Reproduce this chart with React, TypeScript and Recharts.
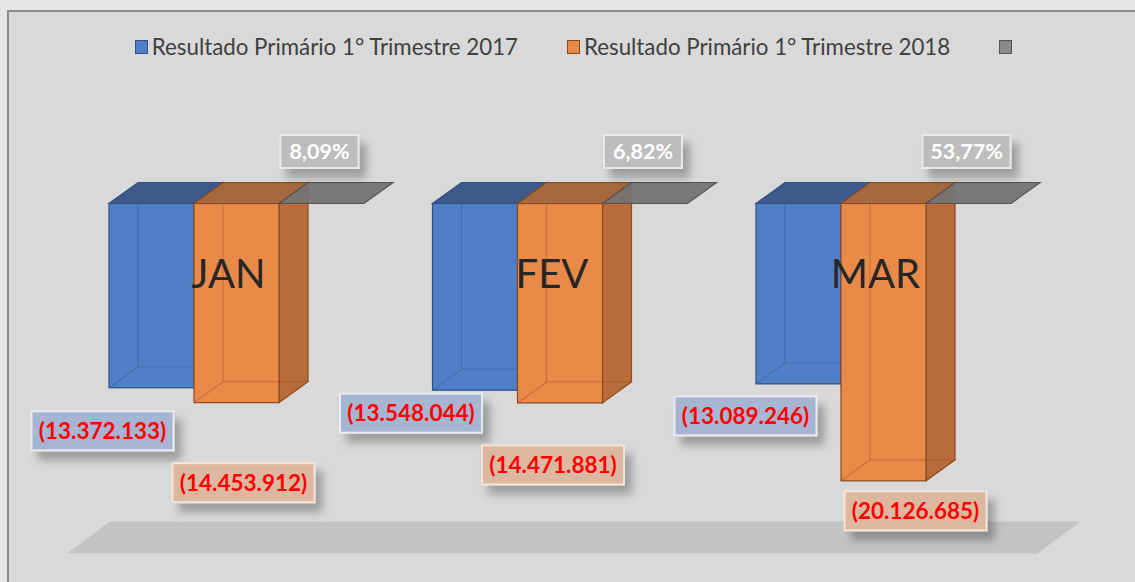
import React from 'react';
import { BarChart, Bar, XAxis, YAxis, LabelList, Legend, ReferenceArea } from 'recharts';

const months = ['JAN', 'FEV', 'MAR'];
const resultado2017 = [-13372133, -13548044, -13089246];
const resultado2018 = [-14453912, -14471881, -20126685];
const variacao = [8.09, 6.82, 53.77];
const seriesNames = ['Resultado Primário 1° Trimestre 2017', 'Resultado Primário 1° Trimestre 2018', ''];

const data = months.map((month, i) => ({
  month,
  r2017: resultado2017[i],
  r2018: resultado2018[i],
  pct: variacao[i],
}));

// label placement (Excel labels were moved by hand), offset from bar front bottom-center
const nudge2017 = [[-49, 43], [-64, 23], [-53, 32]];
const nudge2018 = [[7, 80], [-7, 62], [32, 30]];

const DX = 29;
const DY = 21;
const FONT = 'Lato, "Open Sans", sans-serif';

const blue = { front: '#4f7fc7', top: '#3e5a8c', side: '#3f63a3', edge: '#2f4f85' };
const orange = { front: '#e98a48', top: '#a6693e', side: '#b96c3a', edge: '#8b4a1c' };
const grey = { front: '#8a8a8a', top: '#747474', side: '#6a6a6a', edge: '#555555' };

const fmtNeg = (v: number) => {
  const s = Math.abs(Math.round(v)).toString().replace(/\B(?=(\d{3})+(?!\d))/g, '.');
  return v < 0 ? `(${s})` : s;
};
const fmtPct = (v: number) => v.toFixed(2).replace('.', ',') + '%';

const norm = (p: any) => {
  const x = Number(p.x);
  const y = Number(p.y);
  const w = Number(p.width);
  const h = Number(p.height);
  const top = Math.min(y, y + h);
  return { l: x, r: x + w, top, b: top + Math.abs(h), w };
};

const makeBox = (c: typeof blue) => (props: any) => {
  const { l, r, top, b } = norm(props);
  const flat = b - top < 1;
  if (flat) {
    return (
      <polygon
        points={`${l},${top} ${r},${top} ${r + DX},${top - DY} ${l + DX},${top - DY}`}
        fill={c.top}
        stroke={c.edge}
        strokeWidth={1.2}
        fillOpacity={0.95}
      />
    );
  }
  return (
    <g>
      <polygon
        points={`${r},${top} ${r + DX},${top - DY} ${r + DX},${b - DY} ${r},${b}`}
        fill={c.side}
        stroke={c.edge}
        strokeWidth={1.2}
      />
      <rect x={l} y={top} width={r - l} height={b - top} fill={c.front} stroke={c.edge} strokeWidth={1.2} />
      <g stroke={c.edge} strokeOpacity={0.35} strokeWidth={1.2}>
        <line x1={l + DX} y1={top - DY} x2={l + DX} y2={b - DY} />
        <line x1={l + DX} y1={b - DY} x2={r + DX} y2={b - DY} />
        <line x1={l} y1={b} x2={l + DX} y2={b - DY} />
      </g>
      <polygon
        points={`${l},${top} ${r},${top} ${r + DX},${top - DY} ${l + DX},${top - DY}`}
        fill={c.top}
        stroke={c.edge}
        strokeWidth={1.2}
      />
    </g>
  );
};

const valueLabel = (nudges: number[][], bg: string, border: string) => (props: any) => {
  const box = norm(props.viewBox && props.viewBox.width !== undefined ? props.viewBox : props);
  const i = props.index ?? 0;
  const [nx, ny] = nudges[i] || [0, 0];
  const cx = (box.l + box.r) / 2 + nx;
  const cy = box.b + ny;
  const w = 142;
  const h = 39;
  return (
    <g>
      <rect
        x={cx - w / 2}
        y={cy - h / 2}
        width={w}
        height={h}
        fill={bg}
        stroke={border}
        strokeWidth={2}
        filter="url(#lblShadow)"
      />
      <text
        x={cx}
        y={cy + 8}
        textAnchor="middle"
        fill="#ff0000"
        fontFamily={FONT}
        fontWeight="bold"
        fontSize={22.5}
      >
        {fmtNeg(Number(props.value))}
      </text>
    </g>
  );
};

const pctLabel = (props: any) => {
  const box = norm(props.viewBox && props.viewBox.width !== undefined ? props.viewBox : props);
  const txt = fmtPct(Number(props.value));
  const cx = (box.l + box.r) / 2 - 2;
  const cy = box.top - 52;
  const w = 28 + txt.length * 10;
  const h = 33;
  return (
    <g>
      <rect
        x={cx - w / 2}
        y={cy - h / 2}
        width={w}
        height={h}
        fill="#bdbdbd"
        stroke="#e8e8e8"
        strokeWidth={2}
        filter="url(#lblShadow)"
      />
      <text x={cx} y={cy + 7.5} textAnchor="middle" fill="#ffffff" fontFamily={FONT} fontWeight="bold" fontSize={21.5}>
        {txt}
      </text>
    </g>
  );
};

const monthLabel = (props: any) => {
  const box = norm(props.viewBox && props.viewBox.width !== undefined ? props.viewBox : props);
  return (
    <text
      x={box.l + 34.5}
      y={box.top + 84}
      textAnchor="middle"
      fill="#262626"
      fontFamily={FONT}
      fontSize={40}
    >
      {props.value}
    </text>
  );
};

const Floor = (props: any) => {
  const x = Number(props.x);
  const w = Number(props.width);
  const b = Number(props.y) + Number(props.height);
  const l = x - 8;
  const r = x + w - 8;
  return (
    <polygon points={`${l},${b} ${r},${b} ${r + 43},${b - 32} ${l + 43},${b - 32}`} fill="#c4c3c3" />
  );
};

const legendColors = [blue, orange, grey];

const LegendContent = () => (
  <div
    style={{
      display: 'flex',
      justifyContent: 'center',
      alignItems: 'center',
      gap: 49,
      fontFamily: FONT,
      fontSize: 22.3,
      color: '#404040',
      paddingLeft: 12,
    }}
  >
    {seriesNames.map((name, i) => (
      <div key={i} style={{ display: 'flex', alignItems: 'center' }}>
        <span
          style={{
            display: 'inline-block',
            width: 11,
            height: 12,
            background: legendColors[i].front,
            border: `1px solid ${legendColors[i].edge}`,
            marginRight: name ? 4 : 0,
          }}
        />
        {name && <span>{name}</span>}
      </div>
    ))}
  </div>
);

export default function App() {
  return (
    <div style={{ position: 'fixed', left: 0, top: 0, width: 1135, height: 582, background: '#d9d9d9', overflow: 'hidden' }}>
      <style>{'html,body{margin:0;overflow:hidden;}'}</style>
      <svg width={0} height={0} style={{ position: 'absolute' }}>
        <defs>
          <filter id="lblShadow" x="-20%" y="-30%" width="150%" height="190%">
            <feDropShadow dx={7} dy={9} stdDeviation={4} floodColor="#000" floodOpacity={0.28} />
          </filter>
        </defs>
      </svg>
      <div style={{ position: 'absolute', left: 0, top: 0, width: 1135, height: 10, background: '#e6e6e6' }} />
      <div style={{ position: 'absolute', left: 0, top: 0, width: 7, height: 582, background: '#e6e6e6' }} />
      <div style={{ position: 'absolute', left: 7, top: 10, width: 1128, height: 2, background: '#8a8a8a' }} />
      <div style={{ position: 'absolute', left: 7, top: 10, width: 2, height: 572, background: '#8a8a8a' }} />
      <div style={{ position: 'absolute', left: 0, top: 0 }}>
        <BarChart
          width={1135}
          height={582}
          data={data}
          margin={{ top: 203.5, right: 89.5, bottom: 28.5, left: 75 }}
          barGap={0}
          barSize={85}
        >
          <XAxis dataKey="month" hide />
          <YAxis hide domain={[-25400000, 0]} />
          <ReferenceArea y1={-25400000} y2={0} shape={<Floor />} ifOverflow="visible" />
          <Legend
            layout="horizontal"
            verticalAlign="middle"
            align="center"
            content={<LegendContent />}
            wrapperStyle={{ top: 33, left: 0, width: 1135 }}
          />
          <Bar dataKey="r2017" name={seriesNames[0]} shape={makeBox(blue)} isAnimationActive={false}>
            <LabelList dataKey="r2017" content={valueLabel(nudge2017, '#a6b5d2', '#e6eaf2')} />
          </Bar>
          <Bar dataKey="r2018" name={seriesNames[1]} shape={makeBox(orange)} isAnimationActive={false}>
            <LabelList dataKey="r2018" content={valueLabel(nudge2018, '#dcb8a0', '#f3e4da')} />
            <LabelList dataKey="month" content={monthLabel} />
          </Bar>
          <Bar dataKey="pct" name="variação" shape={makeBox(grey)} isAnimationActive={false}>
            <LabelList dataKey="pct" content={pctLabel} />
          </Bar>
        </BarChart>
      </div>
    </div>
  );
}
